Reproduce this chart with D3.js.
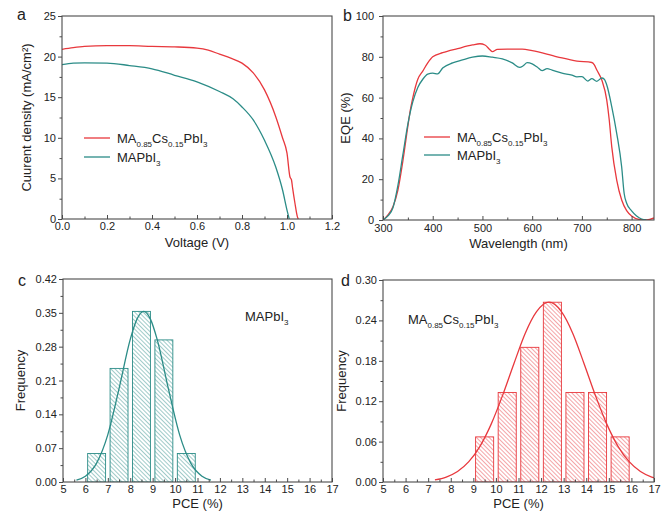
<!DOCTYPE html>
<html>
<head>
<meta charset="utf-8">
<script src="https://cdn.jsdelivr.net/npm/d3@7"></script>
<style>
  body { margin: 0; background: #fff; }
  svg { font-family: "Liberation Sans", Arial, sans-serif; }
</style>
</head>
<body>
<div id="chart"></div>
<script>
// ---- data ----
var RED = "#e8383d";
var TEAL = "#2b8c87";

// panel a: J-V curves (V, mA/cm2)
var jvCs = [[0,20.9],[0.05,21.1],[0.1,21.25],[0.2,21.35],[0.3,21.35],[0.4,21.25],[0.5,21.2],[0.6,21.05],
	[0.65,20.8],[0.7,20.3],[0.75,19.8],[0.8,19.2],[0.85,18.0],[0.9,15.9],[0.95,12.6],[0.98,10.0],
	[1.0,8.1],[1.013,5.2],[1.02,4.8],[1.025,3.8],[1.035,2.0],[1.046,0.3],[1.05,0]];
var jvMA = [[0,19.0],[0.05,19.2],[0.1,19.22],[0.2,19.2],[0.3,18.9],[0.4,18.5],[0.5,17.7],[0.6,16.9],
	[0.7,15.7],[0.76,14.8],[0.8,13.8],[0.85,12.2],[0.9,9.7],[0.95,6.4],[0.98,3.6],[1.0,1.1],[1.01,0]];

// panel b: EQE (nm, %)
var eqeCs = [[300,0],[310,2.5],[320,6.5],[330,14.7],[340,29],[350,46],[355,54],[360,60],[370,69],[380,73],
	[390,77],[400,80],[420,82],[450,84],[480,85.8],[495,86.4],[505,85.8],[515,83.5],[520,82.5],[530,83.6],
	[550,83.8],[580,83.8],[600,83],[650,80],[690,77.9],[720,77.2],[725,76],[730,73.5],[740,68.6],[750,58.8],
	[755,49],[760,36],[770,19.6],[780,9.8],[790,4.6],[800,2],[815,0.3],[830,0],[845,1]];
var eqeMA = [[300,0],[310,2],[320,6],[330,17],[340,32],[350,47],[360,58],[370,65],[380,69],[390,71.5],
	[400,72],[410,71.6],[420,74.5],[440,77],[460,78.5],[480,79.8],[500,80.4],[520,79.8],[540,79],[560,77],
	[575,74.8],[582,75.6],[590,77.1],[600,76.5],[610,75],[620,73.2],[630,74.2],[640,73.5],[660,72],[680,71],
	[690,70.2],[700,70.3],[712,68.1],[720,69.3],[730,68],[740,69.6],[745,69],[750,66.2],[760,55.6],[770,42.5],
	[780,26],[785,13],[790,8.2],[800,4.5],[810,2],[820,0.5],[830,0]];

// panel c: MAPbI3 PCE histogram
var binsMA = [6, 7, 8, 9, 10];
var freqMA = [0.059, 0.235, 0.353, 0.294, 0.059];
var fitMA = [[5.6,0.004],[6.0,0.012],[6.5,0.039],[7.0,0.098],[7.5,0.193],[8.0,0.295],[8.3,0.337],[8.6,0.353],
	[8.9,0.337],[9.2,0.295],[9.7,0.193],[10.2,0.098],[10.7,0.039],[11.2,0.012],[11.6,0.004]];

// panel d: MA0.85Cs0.15PbI3 PCE histogram
var binsCs = [9, 10, 11, 12, 13, 14, 15];
var freqCs = [0.067, 0.133, 0.2, 0.267, 0.133, 0.133, 0.067];
var fitCs = [[7.3,0.0032],[7.8,0.0074],[8.3,0.0156],[8.8,0.0302],[9.3,0.0534],[9.8,0.0867],[10.3,0.129],
	[10.8,0.176],[11.3,0.221],[11.8,0.253],[12.35,0.267],[12.9,0.253],[13.4,0.221],[13.9,0.176],[14.4,0.129],
	[14.9,0.0867],[15.4,0.0534],[15.9,0.0302],[16.4,0.0156],[16.9,0.0074],[17.0,0.0063]];

var labelCs = [["MA"],["0.85","s"],["Cs"],["0.15","s"],["PbI"],["3","s"]];
var labelMA = [["MAPbI"],["3","s"]];

var W = 662, H = 512;
var AXIS = "#4a4a4a";

var svg = d3.select("#chart").append("svg")
	.attr("width", W).attr("height", H);

// hatch patterns for the histogram bars
var defs = svg.append("defs");
[["hatchTeal", TEAL], ["hatchRed", RED]].forEach(function(p) {
	var pat = defs.append("pattern")
		.attr("id", p[0])
		.attr("patternUnits", "userSpaceOnUse")
		.attr("width", 3).attr("height", 3)
		.attr("patternTransform", "rotate(-45)");
	pat.append("rect").attr("width", 3).attr("height", 3).attr("fill", "#fff");
	pat.append("line")
		.attr("x1", 0).attr("y1", 0).attr("x2", 0).attr("y2", 3)
		.attr("stroke", p[1]).attr("stroke-width", 0.9);
});

function richText(g, x, y, parts, size) {
	var t = g.append("text").attr("x", x).attr("y", y)
		.style("font-size", size + "px").attr("fill", "#222");
	var shifted = false;
	parts.forEach(function(p) {
		var sp = t.append("tspan").text(p[0]);
		if (p[1] === "s") {
			sp.style("font-size", Math.round(size * 0.62) + "px").attr("dy", shifted ? 0 : 4);
			shifted = true;
		} else {
			sp.attr("dy", shifted ? -4 : 0);
			shifted = false;
		}
	});
	return t;
}

function panel(box, xDom, yDom, xTicks, xMinor, yTicks, yMinor, xFmt, yFmt, xPad, yPad) {
	var g = svg.append("g");
	var x = d3.scaleLinear().domain(xDom).range([box.l, box.r]);
	var y = d3.scaleLinear().domain(yDom).range([box.b, box.t]);

	var clipId = "clip" + box.l + "_" + box.t;
	defs.append("clipPath").attr("id", clipId)
		.append("rect").attr("x", box.l).attr("y", box.t)
		.attr("width", box.r - box.l).attr("height", box.b - box.t);
	var plot = g.append("g").attr("clip-path", "url(#" + clipId + ")");

	// minor ticks (x ticks point inward, y ticks outward)
	var xa = g.append("g").attr("transform", "translate(0," + box.b + ")")
		.call(d3.axisBottom(x).tickValues(xMinor).tickSize(-2.5).tickFormat(""));
	var ya = g.append("g").attr("transform", "translate(" + box.l + ",0)")
		.call(d3.axisLeft(y).tickValues(yMinor).tickSize(2.5).tickFormat(""));
	// major ticks
	var xb = g.append("g").attr("transform", "translate(0," + box.b + ")")
		.call(d3.axisBottom(x).tickValues(xTicks).tickSize(-4).tickPadding(xPad || 3).tickFormat(xFmt));
	var yb = g.append("g").attr("transform", "translate(" + box.l + ",0)")
		.call(d3.axisLeft(y).tickValues(yTicks).tickSize(4).tickPadding(yPad || 2).tickFormat(yFmt));
	[xa, ya, xb, yb].forEach(function(a) {
		a.select(".domain").remove();
		a.selectAll("line").attr("stroke", AXIS);
		a.selectAll("text").attr("fill", "#222").style("font-size", "11px");
	});

	g.append("rect")
		.attr("x", box.l).attr("y", box.t)
		.attr("width", box.r - box.l).attr("height", box.b - box.t)
		.attr("fill", "none").attr("stroke", AXIS).attr("stroke-width", 1.1);

	return { g: g, plot: plot, x: x, y: y };
}

function drawLine(p, data, color) {
	p.plot.append("path")
		.datum(data)
		.attr("fill", "none")
		.attr("stroke", color)
		.attr("stroke-width", 1.3)
		.attr("d", d3.line().x(function(d) { return p.x(d[0]); })
			.y(function(d) { return p.y(d[1]); })
			.curve(d3.curveMonotoneX));
}

function drawBars(p, bins, freq, color, hatch) {
	p.plot.selectAll(null)
		.data(bins)
		.enter().append("rect")
		.attr("x", function(d) { return p.x(d + 0.1); })
		.attr("width", function(d) { return p.x(d + 0.9) - p.x(d + 0.1); })
		.attr("y", function(d, i) { return p.y(freq[i]); })
		.attr("height", function(d, i) { return p.y(0) - p.y(freq[i]); })
		.attr("fill", "url(#" + hatch + ")")
		.attr("stroke", color)
		.attr("stroke-width", 0.9);
}

function legend(g, x0, y0, gap) {
	[[RED, labelCs], [TEAL, labelMA]].forEach(function(l, i) {
		var yy = y0 + i * gap;
		g.append("line").attr("x1", x0).attr("x2", x0 + 26)
			.attr("y1", yy).attr("y2", yy)
			.attr("stroke", l[0]).attr("stroke-width", 1.3);
		richText(g, x0 + 33, yy + 4.5, l[1], 13);
	});
}

function panelLetter(x, y, s) {
	svg.append("text").attr("x", x).attr("y", y).text(s)
		.style("font-size", "16px").attr("fill", "#222");
}

function axisTitles(p, box, xt, yt, xOff, yOff) {
	p.g.append("text")
		.attr("x", (box.l + box.r) / 2).attr("y", box.b + xOff)
		.attr("text-anchor", "middle").style("font-size", "13px").attr("fill", "#222")
		.text(xt);
	p.g.append("text")
		.attr("transform", "translate(" + (box.l - yOff) + "," + ((box.t + box.b) / 2) + ") rotate(-90)")
		.attr("text-anchor", "middle").style("font-size", "13px").attr("fill", "#222")
		.text(yt);
}

var f1 = d3.format(".1f"), f2 = d3.format(".2f"), f0 = d3.format("d");

// ---- a ----
var boxA = { l: 62, r: 332, t: 16, b: 219 };
var pA = panel(boxA, [0, 1.2], [0, 25],
	d3.range(0, 1.21, 0.2), d3.range(0.1, 1.2, 0.2),
	d3.range(0, 26, 5), d3.range(2.5, 25, 5), f1, f0);
drawLine(pA, jvCs, RED);
drawLine(pA, jvMA, TEAL);
legend(pA.g, 84, 138, 19);
axisTitles(pA, boxA, "Voltage (V)", "", 28, 0);
pA.g.append("text")
	.attr("transform", "translate(31," + ((boxA.t + boxA.b) / 2) + ") rotate(-90)")
	.attr("text-anchor", "middle").style("font-size", "13px").attr("fill", "#222")
	.text("Cuurent density (mA/cm²)");
panelLetter(17, 20, "a");

// ---- b ----
var boxB = { l: 383, r: 654, t: 16, b: 220 };
var pB = panel(boxB, [300, 845], [0, 100],
	d3.range(300, 801, 100), d3.range(350, 845, 100),
	d3.range(0, 101, 20), d3.range(10, 100, 20), f0, f0, 4, 5);
drawLine(pB, eqeCs, RED);
drawLine(pB, eqeMA, TEAL);
legend(pB.g, 424, 137, 18);
axisTitles(pB, boxB, "Wavelength (nm)", "EQE (%)", 28, 33);
panelLetter(343, 21, "b");

// ---- c ----
var boxC = { l: 63, r: 332, t: 279, b: 482 };
var pC = panel(boxC, [5, 17], [0, 0.42],
	d3.range(5, 18, 1), d3.range(5.5, 17, 1),
	d3.range(0, 0.43, 0.07), d3.range(0.035, 0.42, 0.07), f0, f2);
drawBars(pC, binsMA, freqMA, TEAL, "hatchTeal");
drawLine(pC, fitMA, TEAL);
richText(pC.g, 245, 321, labelMA, 13);
axisTitles(pC, boxC, "PCE (%)", "Frequency", 26, 38);
panelLetter(18, 286, "c");

// ---- d ----
var boxD = { l: 383, r: 654, t: 280, b: 482 };
var pD = panel(boxD, [5, 17], [0, 0.30],
	d3.range(5, 18, 1), d3.range(5.5, 17, 1),
	d3.range(0, 0.31, 0.06), d3.range(0.03, 0.30, 0.06), f0, f2);
drawBars(pD, binsCs, freqCs, RED, "hatchRed");
drawLine(pD, fitCs, RED);
richText(pD.g, 408, 324, labelCs, 13);
axisTitles(pD, boxD, "PCE (%)", "Frequency", 26, 37);
panelLetter(341, 286, "d");
</script>
</body>
</html>
